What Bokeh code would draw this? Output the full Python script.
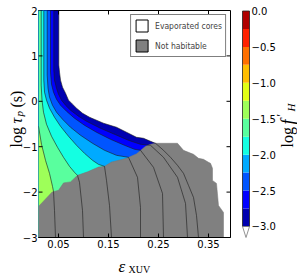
from math import pi
from bokeh.plotting import figure
from bokeh.models import FixedTicker, Legend, LegendItem, Range1d
from bokeh.layouts import row, column
from bokeh.embed import file_html
from bokeh.resources import INLINE
from bokeh.core.properties import value

# ---------------- data ----------------
x_ticks = [0.05, 0.15, 0.25, 0.35]
x_tick_labels = ["0.05", "0.15", "0.25", "0.35"]
y_ticks = [2, 1, 0, -1, -2, -3]
y_tick_labels = ["2", "1", "0", "\u22121", "\u22122", "\u22123"]

cbar_levels = [-3.0, -2.75, -2.5, -2.25, -2.0, -1.75, -1.5, -1.25, -1.0, -0.75, -0.5, -0.25, 0.0]
palette = ["#0000b0", "#0000ff", "#0055ff", "#00aaff", "#14ffe2", "#59ff9e",
           "#9eff59", "#e2ff14", "#ffbe00", "#ff7000", "#ff2100", "#b00000"]
cbar_ticks = [0.0, -0.5, -1.0, -1.5, -2.0, -2.5, -3.0]
cbar_tick_labels = ["0.0", "\u22120.5", "\u22121.0", "\u22121.5", "\u22122.0", "\u22122.5", "\u22123.0"]

legend_labels = ["Evaporated cores", "Not habitable"]
legend_fills = ["white", "#808080"]

# contour lines of log f'_H (one path per level)
c300_x = [0.0506, 0.0506, 0.052, 0.054, 0.058, 0.064, 0.070, 0.078, 0.086, 0.098, 0.112, 0.140, 0.166,
          0.186, 0.206, 0.220, 0.234, 0.244, 0.260, 0.274, 0.288, 0.300, 0.310, 0.320, 0.326, 0.330]
c300_y = [2.0, 0.797, 0.642, 0.466, 0.311, 0.179, 0.025, -0.064, -0.152, -0.263, -0.351, -0.483, -0.572,
          -0.682, -0.793, -0.815, -0.881, -0.925, -1.079, -1.234, -1.411, -1.587, -1.852, -2.117, -2.515, -3.0]
c275_x = [0.0406, 0.0406, 0.042, 0.046, 0.050, 0.056, 0.064, 0.074, 0.090, 0.106, 0.134, 0.162, 0.190,
          0.214, 0.234, 0.260, 0.288, 0.304, 0.308]
c275_y = [2.0, 0.687, 0.466, 0.289, 0.157, 0.025, -0.086, -0.196, -0.329, -0.439, -0.594, -0.726, -0.859,
          -0.947, -0.969, -1.234, -1.675, -2.249, -3.0]
c250_x = [0.034, 0.034, 0.036, 0.040, 0.046, 0.054, 0.066, 0.082, 0.102, 0.126, 0.154, 0.182, 0.202,
          0.214, 0.240, 0.258, 0.260]
c250_y = [2.0, 0.642, 0.377, 0.201, 0.046, -0.086, -0.219, -0.373, -0.528, -0.682, -0.837, -0.969, -1.057,
          -1.079, -1.455, -2.029, -3.0]
c225_x = [0.0274, 0.0274, 0.029, 0.032, 0.038, 0.046, 0.058, 0.074, 0.094, 0.118, 0.142, 0.166, 0.190,
          0.208, 0.214, 0.214]
c225_y = [2.0, 0.576, 0.289, 0.091, -0.086, -0.240, -0.395, -0.572, -0.748, -0.925, -1.079, -1.190, -1.234,
          -1.675, -2.338, -3.0]
c200_x = [0.0206, 0.0206, 0.022, 0.026, 0.032, 0.042, 0.054, 0.070, 0.086, 0.102, 0.118, 0.130, 0.142,
          0.146, 0.152, 0.156]
c200_y = [2.0, 0.466, 0.201, 0.025, -0.152, -0.351, -0.550, -0.770, -0.969, -1.146, -1.300, -1.389, -1.433,
          -1.742, -2.294, -3.0]
c175_x = [0.0154, 0.0154, 0.017, 0.020, 0.026, 0.036, 0.048, 0.060, 0.072, 0.082, 0.088, 0.092, 0.098, 0.100]
c175_y = [2.0, 0.355, 0.025, -0.240, -0.505, -0.770, -1.013, -1.234, -1.433, -1.565, -1.631, -1.786, -2.404, -3.0]
c150_x = [0.010, 0.016, 0.024, 0.032, 0.038, 0.040, 0.042, 0.044]
c150_y = [-0.550, -0.947, -1.300, -1.587, -1.874, -1.985, -2.404, -3.0]

levels = [-3.0, -2.75, -2.5, -2.25, -2.0, -1.75, -1.5]
paths_x = [c300_x, c275_x, c250_x, c225_x, c200_x, c175_x, c150_x]
paths_y = [c300_y, c275_y, c250_y, c225_y, c200_y, c175_y, c150_y]

# "not habitable" region
gray_x = [0.010, 0.0374, 0.050, 0.060, 0.074, 0.088, 0.108, 0.130, 0.142, 0.156, 0.170, 0.186, 0.206,
          0.224, 0.234, 0.244, 0.288, 0.300, 0.320, 0.330, 0.340, 0.350, 0.354, 0.358, 0.358, 0.366,
          0.370, 0.380, 0.380, 0.010]
gray_y = [-2.316, -1.996, -1.962, -1.797, -1.775, -1.631, -1.554, -1.448, -1.433, -1.338, -1.300, -1.256,
          -1.157, -0.991, -0.947, -0.925, -0.925, -1.080, -1.168, -1.256, -1.278, -1.344, -1.366, -1.477,
          -1.742, -1.808, -2.294, -2.448, -3.0, -3.0]

X0, X1, Y0, Y1 = 0.01, 0.394, -3.0, 2.0
TOTAL_H = 276
FRAME_TOP = 10
FRAME_H = 227
MAIN_H = 253
YL_W = 38
SERIF = "Liberation Serif"
NAN = float("nan")
PPU_Y = FRAME_H / (Y1 - Y0)  # px per unit of log tau_p

# ---------------- main figure ----------------
p = figure(frame_width=192, frame_height=FRAME_H, x_range=Range1d(X0, X1), y_range=Range1d(Y0, Y1),
           output_backend="svg", toolbar_location=None,
           min_border_left=0, min_border_top=FRAME_TOP, min_border_right=6,
           min_border_bottom=MAIN_H - FRAME_TOP - FRAME_H)
p.grid.visible = False
p.outline_line_color = "black"
p.background_fill_color = "white"

for lev, px, py in zip(levels, paths_x, paths_y):
    idx = cbar_levels.index(lev)
    xs = list(px) + [X0]
    ys = list(py) + [Y0]
    if py[0] == Y1:
        xs.append(X0)
        ys.append(Y1)
    p.patch(xs, ys, fill_color=palette[idx], line_color=None)

p.patch(gray_x, gray_y, fill_color="#808080", line_color="#777777", line_width=0.5)
p.multi_line(paths_x, paths_y, line_color="#1a1a1a", line_width=0.7, line_alpha=0.85)

xa = p.xaxis[0]
xa.ticker = FixedTicker(ticks=x_ticks)
xa.major_label_overrides = dict(zip(x_ticks, x_tick_labels))
xa.major_tick_in = 4
xa.major_tick_out = 0
xa.minor_tick_in = 0
xa.minor_tick_out = 0
xa.major_label_standoff = 2
xa.major_label_text_font = "DejaVu Sans"
xa.major_label_text_font_size = "10px"
xa.major_label_text_color = "black"
xa.axis_line_color = "black"
p.yaxis.visible = False

# inward ticks on the top, left and right frame edges
p.ray(x=x_ticks, y=Y1, length=4, length_units="screen", angle=-pi / 2, line_color="black", line_width=1)
p.ray(x=X0, y=y_ticks, length=4, length_units="screen", angle=0, line_color="black", line_width=1)
p.ray(x=X1, y=y_ticks, length=4, length_units="screen", angle=pi, line_color="black", line_width=1)

items = []
for lab, fc in zip(legend_labels, legend_fills):
    r = p.quad(left=[NAN], right=[NAN], bottom=[NAN], top=[NAN],
               fill_color=fc, line_color="black", line_width=1)
    items.append(LegendItem(label=lab, renderers=[r]))
legend = Legend(items=items, location="top_right", margin=4, padding=3, spacing=5,
                glyph_width=15, glyph_height=15, label_standoff=6, label_height=15,
                label_text_font="DejaVu Sans Condensed", label_text_font_size="8.5px",
                border_line_color="black", border_line_width=1, background_fill_alpha=1.0)
p.add_layout(legend)

def bare(width, height, xr, yr):
    f = figure(frame_width=width, frame_height=height, x_range=xr, y_range=yr,
               output_backend="svg", toolbar_location=None, min_border=0,
               x_axis_type=None, y_axis_type=None)
    f.grid.visible = False
    f.outline_line_color = None
    f.background_fill_color = None
    f.border_fill_color = None
    return f

# ---------------- left strip: y tick labels and label log tau_p (s) ----------------
yl = bare(YL_W, TOTAL_H, Range1d(0, YL_W),
          Range1d(Y0 - (TOTAL_H - FRAME_TOP - FRAME_H) / PPU_Y, Y1 + FRAME_TOP / PPU_Y))
yl.text(x=YL_W - 1, y=y_ticks, text=y_tick_labels, text_font=value("DejaVu Sans"),
        text_font_size="10px", text_baseline="middle", text_align="right", text_color="black")

def ly(py):
    return Y1 - (py - FRAME_TOP) / PPU_Y

yl.text(x=[15.5], y=[ly(147)], text=["log"], angle=pi / 2, text_font=value(SERIF),
        text_font_size="16px", text_baseline="alphabetic", text_align="left")
yl.text(x=[15.5], y=[ly(123)], text=["\u03c4"], angle=pi / 2, text_font=value(SERIF),
        text_font_style="italic", text_font_size="16px", text_baseline="alphabetic", text_align="left")
yl.text(x=[18.5], y=[ly(116)], text=["p"], angle=pi / 2, text_font=value(SERIF),
        text_font_style="italic", text_font_size="11px", text_baseline="alphabetic", text_align="left")
yl.text(x=[15.5], y=[ly(107)], text=["(s)"], angle=pi / 2, text_font=value(SERIF),
        text_font_size="16px", text_baseline="alphabetic", text_align="left")

# ---------------- bottom strip: eps_XUV (aligned with the plot frame) ----------------
XL_H = TOTAL_H - MAIN_H
xl = bare(192, XL_H, Range1d(0, 192), Range1d(0, XL_H))
xl.text(x=[118 - 38], y=[TOTAL_H - 266], text=["\u03b5"], text_font=value(SERIF), text_font_style="italic",
        text_font_size="17px", text_baseline="alphabetic", text_align="left")
xl.text(x=[128 - 38], y=[TOTAL_H - 269], text=["XUV"], text_font=value(SERIF),
        text_font_size="10px", text_baseline="alphabetic", text_align="left")

# ---------------- colour bar ----------------
PXU = 71.83  # px per unit of log f'_H on the bar
CB_W = 61
cb = bare(CB_W, TOTAL_H, Range1d(0, CB_W), Range1d(-(TOTAL_H - 10.5) / PXU, 10.5 / PXU))
cb.quad(left=6, right=13, bottom=cbar_levels[:-1], top=cbar_levels[1:], fill_color=palette, line_color=None)
cb.quad(left=[6], right=[13], bottom=[cbar_levels[0]], top=[cbar_levels[-1]],
        fill_color=None, line_color="#222222", line_width=0.8)
tip = cbar_levels[0] - 11 / PXU
cb.patch([6, 13, 9.5], [cbar_levels[0], cbar_levels[0], tip], fill_color="white",
         line_color="#777777", line_width=0.8)
cb.text(x=15, y=cbar_ticks, text=cbar_tick_labels, text_font=value("DejaVu Sans"),
        text_font_size="10px", text_baseline="middle", text_align="left", text_color="black")

def cy(py):
    return -(py - 10.5) / PXU

cb.text(x=[51], y=[cy(147)], text=["log"], angle=pi / 2, text_font=value(SERIF),
        text_font_size="16px", text_baseline="alphabetic", text_align="left")
cb.text(x=[51], y=[cy(124)], text=["f"], angle=pi / 2, text_font=value(SERIF),
        text_font_style="italic", text_font_size="18px", text_baseline="alphabetic", text_align="left")
cb.text(x=[44], y=[cy(116)], text=["\u2032"], angle=pi / 2, text_font=value(SERIF),
        text_font_size="12px", text_baseline="alphabetic", text_align="left")
cb.text(x=[54], y=[cy(111)], text=["H"], angle=pi / 2, text_font=value(SERIF),
        text_font_style="italic", text_font_size="11px", text_baseline="alphabetic", text_align="left")

layout = row(yl, column(p, xl), cb)
open("out.html", "w").write(file_html(layout, INLINE))
